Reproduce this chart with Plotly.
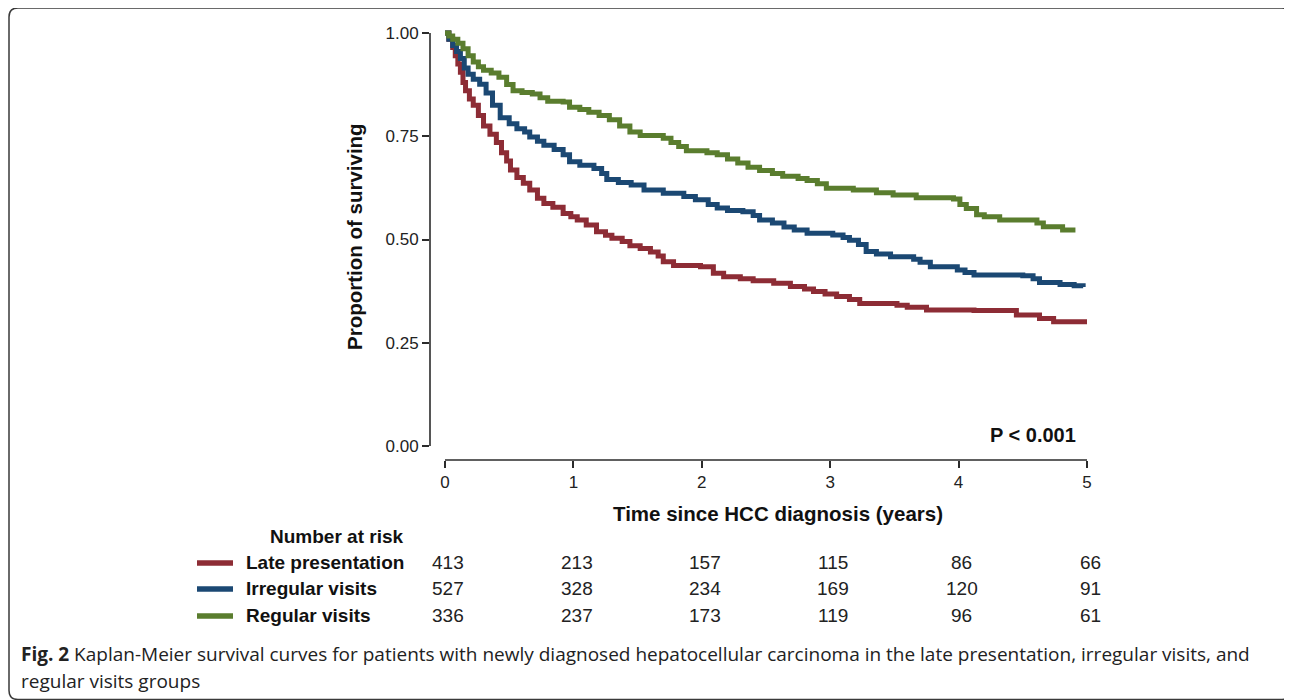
import plotly.graph_objects as go

# ---------------- data ----------------
late_t = [0, 0.03, 0.06, 0.08, 0.10, 0.12, 0.14, 0.16, 0.19, 0.22,
          0.26, 0.30, 0.35, 0.40, 0.44, 0.48, 0.51, 0.56, 0.61, 0.66,
          0.72, 0.77, 0.84, 0.92, 0.98, 1.03, 1.10, 1.18, 1.25, 1.30,
          1.38, 1.44, 1.52, 1.60, 1.66, 1.70, 1.78, 1.99, 2.09, 2.17,
          2.30, 2.40, 2.56, 2.69, 2.80, 2.87, 2.96, 3.05, 3.15, 3.23,
          3.52, 3.60, 3.75, 4.12, 4.45, 4.63, 4.74, 5.00]
late_s = [1.0, 0.985, 0.965, 0.945, 0.925, 0.905, 0.880, 0.860, 0.840, 0.825,
          0.800, 0.775, 0.755, 0.735, 0.710, 0.690, 0.668, 0.650, 0.636, 0.620,
          0.600, 0.587, 0.578, 0.563, 0.555, 0.547, 0.535, 0.519, 0.510, 0.503,
          0.495, 0.485, 0.478, 0.470, 0.460, 0.446, 0.437, 0.434, 0.418, 0.410,
          0.405, 0.400, 0.394, 0.386, 0.380, 0.374, 0.368, 0.362, 0.355, 0.345,
          0.341, 0.336, 0.329, 0.328, 0.317, 0.309, 0.301, 0.301]

irr_t = [0, 0.03, 0.06, 0.09, 0.12, 0.15, 0.18, 0.22, 0.27, 0.32,
         0.37, 0.43, 0.50, 0.56, 0.62, 0.66, 0.72, 0.77, 0.85, 0.92,
         0.97, 1.05, 1.16, 1.22, 1.26, 1.35, 1.45, 1.55, 1.70, 1.86,
         1.95, 2.05, 2.12, 2.20, 2.32, 2.40, 2.45, 2.55, 2.64, 2.72,
         2.82, 3.02, 3.10, 3.15, 3.22, 3.28, 3.36, 3.47, 3.65, 3.70,
         3.78, 3.99, 4.05, 4.12, 4.50, 4.58, 4.63, 4.79, 4.90, 4.97]
irr_s = [1.0, 0.985, 0.970, 0.955, 0.938, 0.915, 0.900, 0.888, 0.876, 0.855,
         0.825, 0.795, 0.780, 0.768, 0.760, 0.748, 0.738, 0.728, 0.718, 0.705,
         0.688, 0.680, 0.672, 0.660, 0.645, 0.638, 0.632, 0.620, 0.612, 0.604,
         0.596, 0.585, 0.576, 0.570, 0.567, 0.558, 0.547, 0.540, 0.530, 0.523,
         0.515, 0.511, 0.505, 0.498, 0.488, 0.471, 0.465, 0.458, 0.452, 0.445,
         0.434, 0.426, 0.420, 0.414, 0.412, 0.405, 0.396, 0.391, 0.388, 0.385]

reg_t = [0, 0.03, 0.06, 0.10, 0.14, 0.18, 0.22, 0.26, 0.30, 0.36,
         0.42, 0.48, 0.53, 0.60, 0.68, 0.74, 0.80, 0.92, 0.97, 1.05,
         1.12, 1.20, 1.28, 1.36, 1.44, 1.52, 1.70, 1.76, 1.82, 1.88,
         2.04, 2.12, 2.20, 2.28, 2.36, 2.45, 2.55, 2.63, 2.75, 2.82,
         2.90, 2.97, 3.18, 3.36, 3.49, 3.67, 3.96, 4.01, 4.06, 4.14,
         4.20, 4.32, 4.61, 4.66, 4.81, 4.91]
reg_s = [1.0, 0.993, 0.985, 0.975, 0.962, 0.945, 0.930, 0.918, 0.910, 0.903,
         0.893, 0.875, 0.860, 0.856, 0.852, 0.843, 0.835, 0.833, 0.820, 0.815,
         0.808, 0.800, 0.790, 0.775, 0.760, 0.752, 0.745, 0.735, 0.725, 0.715,
         0.710, 0.705, 0.695, 0.685, 0.675, 0.667, 0.660, 0.653, 0.648, 0.643,
         0.635, 0.624, 0.620, 0.613, 0.608, 0.601, 0.598, 0.585, 0.575, 0.560,
         0.555, 0.547, 0.540, 0.531, 0.523, 0.523]

groups = ["Late presentation", "Irregular visits", "Regular visits"]
risk_times = [0, 1, 2, 3, 4, 5]
risk_late = [413, 213, 157, 115, 86, 66]
risk_irr = [527, 328, 234, 169, 120, 91]
risk_reg = [336, 237, 173, 119, 96, 61]

x_ticks = [0, 1, 2, 3, 4, 5]
y_ticks = [0.0, 0.25, 0.5, 0.75, 1.0]
y_ticklabels = ["0.00", "0.25", "0.50", "0.75", "1.00"]

colors = ["#8d2c35", "#1b4873", "#5a7d2e"]

# ---------------- geometry (reference pixels; page has an 8px body margin) ----------------
OFF = 8
W, H = 1292 - OFF, 700 - OFF
PL, PR, PT, PB = 430, 1100, 28, 460          # plot area in reference pixels
L, T = PL - OFF, PT - OFF
R, B = W - (PR - OFF), H - (PB - OFF)
PW, PH = PR - PL, PB - PT


def px(xpix):
    return (xpix - PL) / PW


def py(ypix):
    return (PB - ypix) / PH


FONT = "Liberation Sans, Arial, sans-serif"
AX = "#2b2b2b"

fig = go.Figure()
for t, s, name, c in [(late_t, late_s, groups[0], colors[0]),
                      (irr_t, irr_s, groups[1], colors[1]),
                      (reg_t, reg_s, groups[2], colors[2])]:
    fig.add_trace(go.Scatter(x=t, y=s, mode="lines", name=name,
                             line=dict(color=c, width=5, shape="hv"),
                             showlegend=False))

shapes = []
# offset axis lines
shapes.append(dict(type="line", xref="paper", yref="y", x0=0, x1=0, y0=0, y1=1,
                   line=dict(color=AX, width=1.6)))
shapes.append(dict(type="line", xref="x", yref="paper", x0=0, x1=5, y0=0, y1=0,
                   line=dict(color=AX, width=1.6)))
# number-at-risk swatches
row_y = [562, 588, 615]
for c, yy in zip(colors, row_y):
    shapes.append(dict(type="line", xref="paper", yref="paper",
                       x0=px(197), x1=px(233), y0=py(yy + 1), y1=py(yy + 1),
                       line=dict(color=c, width=5.5)))
# rounded border
x0b, x1b, y0b, y1b = px(9), px(1291), py(8), py(699.5)
rx, ry = 9 / PW, 9 / PH
path = (f"M {x0b + rx},{y0b} L {x1b - rx},{y0b} Q {x1b},{y0b} {x1b},{y0b - ry} "
        f"L {x1b},{y1b + ry} Q {x1b},{y1b} {x1b - rx},{y1b} "
        f"L {x0b + rx},{y1b} Q {x0b},{y1b} {x0b},{y1b + ry} "
        f"L {x0b},{y0b - ry} Q {x0b},{y0b} {x0b + rx},{y0b} Z")
shapes.append(dict(type="path", xref="paper", yref="paper", path=path,
                   line=dict(color="#3a3a3a", width=1.5)))


def note(text, x, y, size, xanchor="center", xref="paper", color="#111", family=FONT, **kw):
    return dict(text=text, xref=xref, yref="paper", x=x, y=y, xanchor=xanchor,
                yanchor="middle", showarrow=False,
                font=dict(size=size, color=color, family=family), **kw)


ann = []
ann.append(note("<b>Proportion of surviving</b>", px(354), py(237), 20.5, textangle=-90))
ann.append(note("<b>Time since HCC diagnosis (years)</b>", px(778), py(513), 20.5))
ann.append(note("<b>P < 0.001</b>", px(1078), py(435), 20, xanchor="right"))
ann.append(note("<b>Number at risk</b>", px(405), py(536), 19, xanchor="right"))
for g, yy in zip(groups, row_y):
    ann.append(note(f"<b>{g}</b>", px(244), py(yy), 19, xanchor="left"))
for vals, yy in zip([risk_late, risk_irr, risk_reg], row_y):
    for t, v in zip(risk_times, vals):
        ann.append(note(str(v), t + 0.025, py(yy), 19, xref="x", color="#222"))

CAP = "Open Sans, Noto Sans, sans-serif"
ann.append(note("<b>Fig. 2</b> Kaplan-Meier survival curves for patients with newly diagnosed "
                "hepatocellular carcinoma in the late presentation, irregular visits, and",
                px(19), py(654), 19, xanchor="left", color="#222", family=CAP))
ann.append(note("regular visits groups", px(19), py(681), 19, xanchor="left",
                color="#222", family=CAP))

fig.update_layout(
    width=W, height=H,
    margin=dict(l=L, r=R, t=T, b=B, autoexpand=False),
    paper_bgcolor="white", plot_bgcolor="white",
    font=dict(family=FONT, size=16, color="#222"),
    shapes=shapes, annotations=ann,
    xaxis=dict(range=[-15 / 128.4, 5 + 13 / 128.4], tickvals=x_ticks,
               ticktext=[str(v) for v in x_ticks], ticks="outside", ticklen=7,
               tickwidth=1.6, tickcolor=AX, showline=False, showgrid=False,
               zeroline=False, tickfont=dict(size=17, color="#222")),
    yaxis=dict(range=[-14 / 413, 1 + 5 / 413], tickvals=y_ticks,
               ticktext=y_ticklabels, ticks="outside", ticklen=7,
               tickwidth=1.6, tickcolor=AX, showline=False, showgrid=False,
               zeroline=False, tickfont=dict(size=17, color="#222")),
)

fig.write_html("out.html")
